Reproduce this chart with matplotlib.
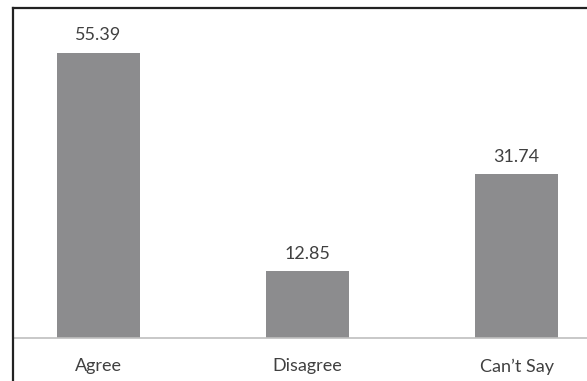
import matplotlib.pyplot as plt
from matplotlib.lines import Line2D

# data
categories = ["Agree", "Disagree", "Can\u2019t Say"]
values = [55.39, 12.85, 31.74]

W, H, DPI = 587, 381, 100
fig = plt.figure(figsize=(W / DPI, H / DPI), dpi=DPI)
plt.rcParams['font.family'] = ['Lato', 'DejaVu Sans']

# plot area (pixel-based)
left_px, right_px, top_px, base_px = 14, 587, 9, 337.5
ax = fig.add_axes([left_px / W, (H - base_px) / H,
                   (right_px - left_px) / W, (base_px - top_px) / H])

x = range(len(categories))
ax.bar(x, values, width=0.4, color='#8c8c8e')

for i, v in zip(x, values):
    ax.annotate(f"{v:.2f}", (i, v), xytext=(0, 7), textcoords='offset points',
                ha='center', va='bottom', fontsize=13, color='#404040')

ax.set_xlim(-0.404, 2.337)
ax.set_ylim(0, 63.9)
ax.set_xticks(list(x))
ax.set_xticklabels(categories, fontsize=13, color='#404040')
ax.tick_params(axis='x', length=0, pad=15)
ax.set_yticks([])
for s in ['top', 'right', 'left']:
    ax.spines[s].set_visible(False)
ax.spines['bottom'].set_color('#bfbfbf')
ax.spines['bottom'].set_linewidth(1.2)

# outer frame (left and top only visible)
fig.add_artist(Line2D([12.5 / W, 12.5 / W], [0, 1 - 8 / H], color='#222222',
                      lw=1.6, transform=fig.transFigure))
fig.add_artist(Line2D([12.5 / W, 1], [1 - 8 / H, 1 - 8 / H], color='#222222',
                      lw=1.6, transform=fig.transFigure))

fig.savefig("out.png", dpi=DPI)
